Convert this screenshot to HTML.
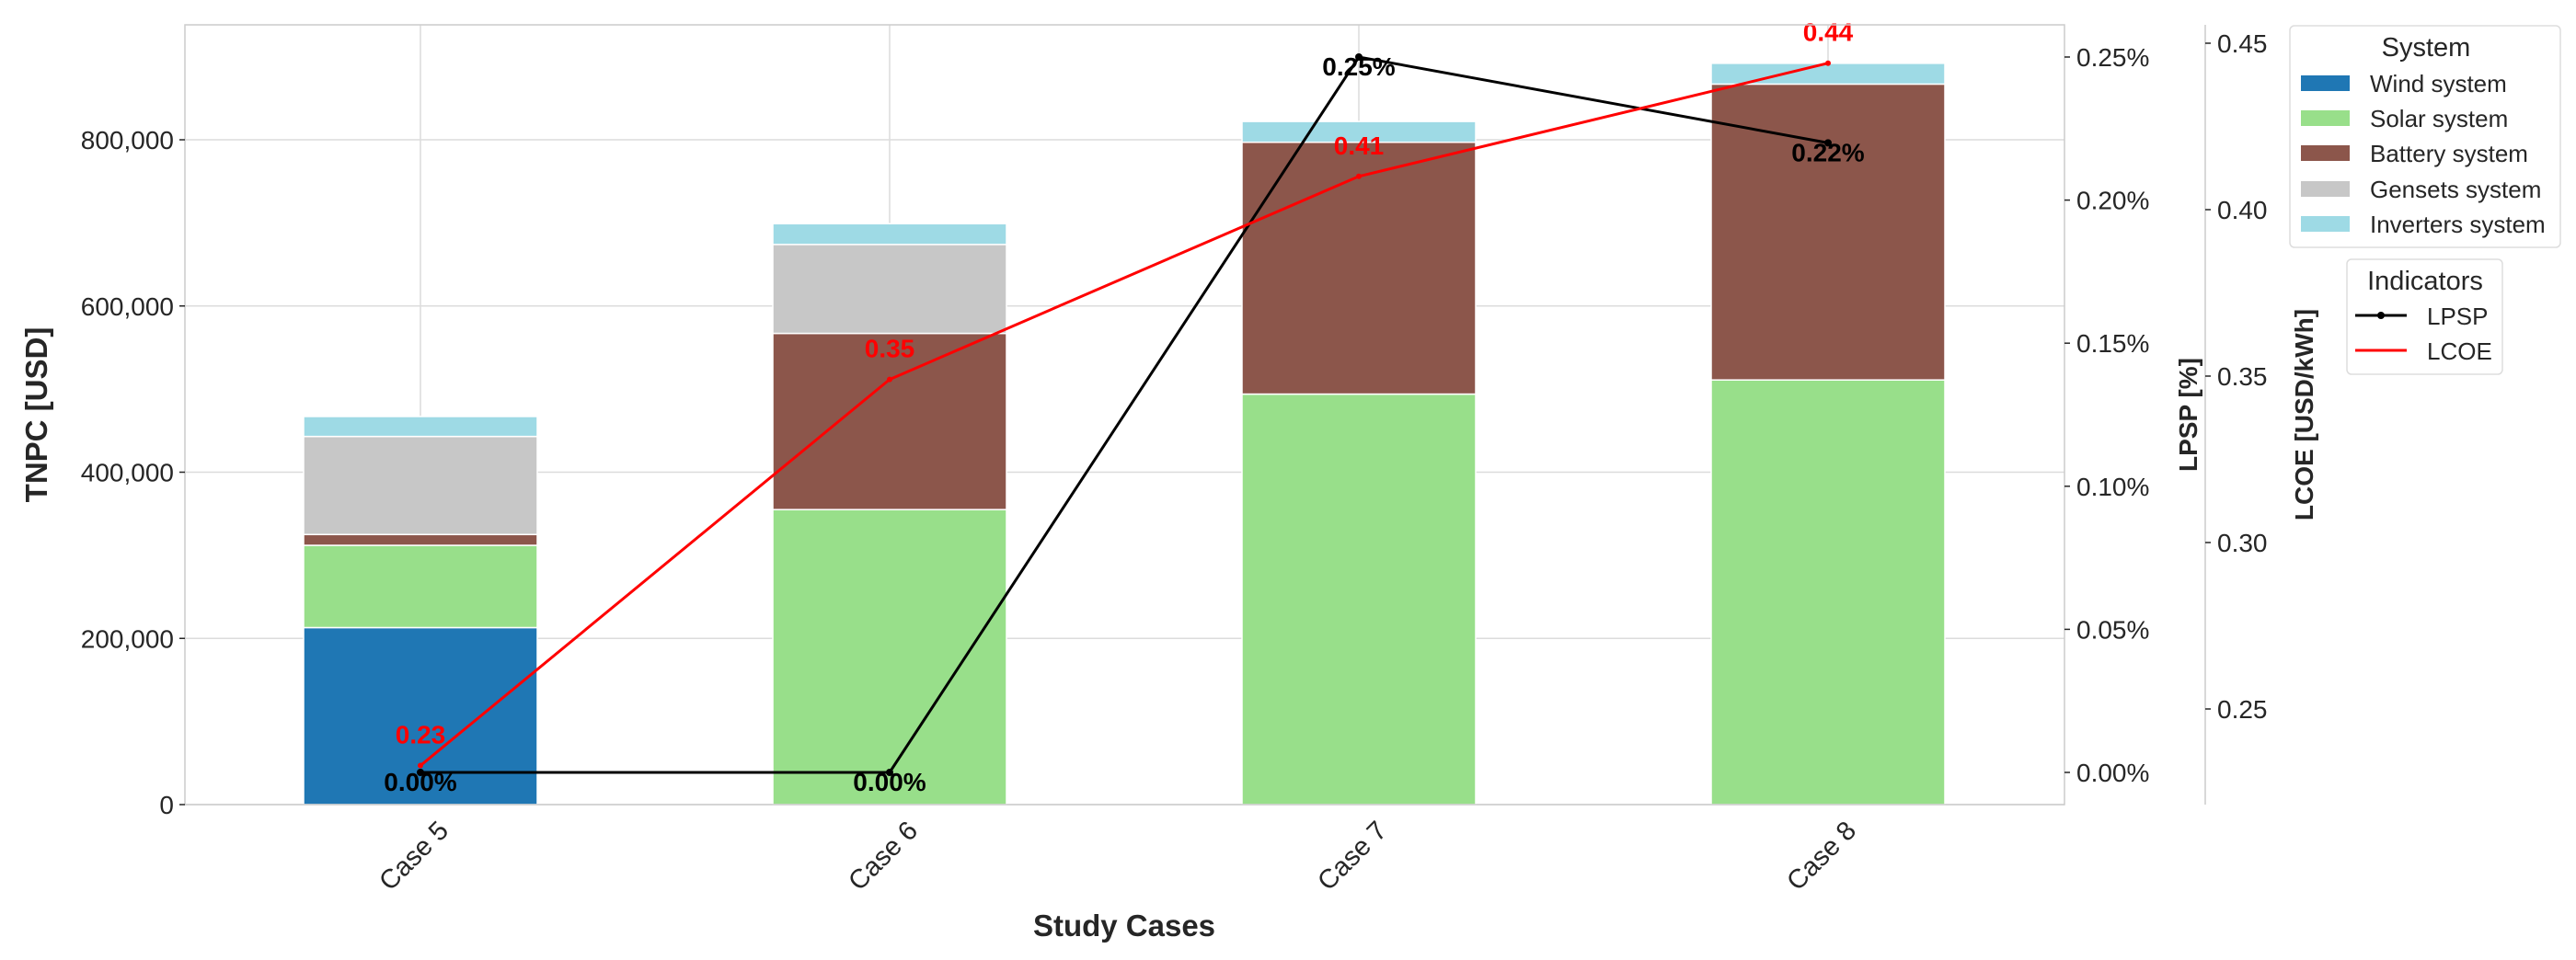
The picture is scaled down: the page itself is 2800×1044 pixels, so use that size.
<!DOCTYPE html>
<html><head><meta charset="utf-8"><style>
body{margin:0;background:#fff}
svg{display:block;font-family:"Liberation Sans",sans-serif}
</style></head><body>
<svg id="chart" width="2800" height="1044" viewBox="0 0 2800 1044">
<g id="grid"></g><g id="bars"></g><g id="lines"></g><g id="axes"></g>
<g id="legend">
 <rect x="2489" y="28" width="294" height="241" rx="5" fill="#fff" stroke="#ddd" stroke-width="1.5"/>
 <text x="2637" y="61" font-size="29" fill="#262626" text-anchor="middle">System</text>
 <rect x="2501" y="82" width="53" height="17" fill="#1f77b4"/>
 <text x="2576" y="100" font-size="26" fill="#262626">Wind system</text>
 <rect x="2501" y="120" width="53" height="17" fill="#98df8a"/>
 <text x="2576" y="138" font-size="26" fill="#262626">Solar system</text>
 <rect x="2501" y="158" width="53" height="17" fill="#8c564b"/>
 <text x="2576" y="176" font-size="26" fill="#262626">Battery system</text>
 <rect x="2501" y="197" width="53" height="17" fill="#c7c7c7"/>
 <text x="2576" y="215" font-size="26" fill="#262626">Gensets system</text>
 <rect x="2501" y="235" width="53" height="17" fill="#9edae5"/>
 <text x="2576" y="253" font-size="26" fill="#262626">Inverters system</text>
 <rect x="2551" y="282" width="169" height="125" rx="5" fill="#fff" stroke="#ddd" stroke-width="1.5"/>
 <text x="2636" y="315" font-size="29" fill="#262626" text-anchor="middle">Indicators</text>
 <line x1="2560" y1="343" x2="2616" y2="343" stroke="#000" stroke-width="3"/>
 <circle cx="2588" cy="343" r="4" fill="#000"/>
 <text x="2638" y="353" font-size="26" fill="#262626">LPSP</text>
 <line x1="2560" y1="381" x2="2616" y2="381" stroke="#f00" stroke-width="3"/>
 <text x="2638" y="391" font-size="26" fill="#262626">LCOE</text>
</g>
</svg>
<script>
const categories=["Case 5","Case 6","Case 7","Case 8"];
const wind=[213000,0,0,0];
const solar=[99000,355000,494000,511000];
const battery=[13000,212000,303000,356000];
const gensets=[118000,107000,0,0];
const inverters=[24000,25000,25000,25000];
const lpsp=[0.0,0.0,0.25,0.22];
const lcoe=[0.233,0.349,0.41,0.444];
const yTicks=[0,200000,400000,600000,800000];
const lpspTicks=[0,0.05,0.10,0.15,0.20,0.25];
const lcoeTicks=[0.25,0.30,0.35,0.40,0.45];

const NS="http://www.w3.org/2000/svg";
const L=201,R=2244,T=27,B=875;
const xC=i=>457+i*510;
const yL=v=>B-v/200000*180.75;
const yP=v=>840-v/0.05*155.6;
const yE=v=>47+(0.45-v)/0.05*181;
function el(tag,attrs,parent,txt){const e=document.createElementNS(NS,tag);for(const k in attrs)e.setAttribute(k,attrs[k]);if(txt!==undefined)e.textContent=txt;document.getElementById(parent).appendChild(e);return e;}
const fmt=v=>v.toLocaleString('en-US');
yTicks.forEach(v=>{const g=el('line',{x1:L,x2:R,y1:yL(v),y2:yL(v),stroke:'#dcdcdc','stroke-width':1.5},'grid');

});
categories.forEach((c,i)=>{const g=el('line',{x1:xC(i),x2:xC(i),y1:T,y2:B,stroke:'#dcdcdc','stroke-width':1.5},'grid');

});
const series=[["wind",wind,"#1f77b4"],["solar",solar,"#98df8a"],["battery",battery,"#8c564b"],["gensets",gensets,"#c7c7c7"],["inverters",inverters,"#9edae5"]];
categories.forEach((c,i)=>{let base=0;series.forEach(([n,arr,col])=>{const v=arr[i];if(v>0){const r=el('rect',{x:xC(i)-127,width:254,y:yL(base+v),height:yL(base)-yL(base+v),fill:col,stroke:'#fff','stroke-width':1.5},'bars');

}base+=v;});});
const lp=el('polyline',{points:lpsp.map((v,i)=>xC(i)+','+yP(v)).join(' '),fill:'none',stroke:'#000','stroke-width':3},'lines');


const lc=el('polyline',{points:lcoe.map((v,i)=>xC(i)+','+yE(v)).join(' '),fill:'none',stroke:'#f00','stroke-width':3},'lines');


lpsp.forEach((v,i)=>{const p=el('circle',{cx:xC(i),cy:yP(v),r:4,fill:'#000'},'lines');


const t=el('text',{x:xC(i),y:yP(v)+20,'font-size':28,'font-weight':'bold','text-anchor':'middle',fill:'#000'},'lines',v.toFixed(2)+'%');

});
lcoe.forEach((v,i)=>{const p=el('circle',{cx:xC(i),cy:yE(v),r:3,fill:'#f00'},'lines');


const t=el('text',{x:xC(i),y:yE(v)-24,'font-size':28,'font-weight':'bold','text-anchor':'middle',fill:'#f00'},'lines',v.toFixed(2));

});
const f=el('rect',{x:L,y:T,width:R-L,height:B-T,fill:'none',stroke:'#ccc','stroke-width':1.5},'axes');


const sp=el('line',{x1:2397,x2:2397,y1:T,y2:B,stroke:'#ccc','stroke-width':1.5},'axes');


yTicks.forEach(v=>{el('line',{x1:L-6,x2:L,y1:yL(v),y2:yL(v),stroke:'#262626','stroke-width':1.5},'axes');
const t=el('text',{x:L-12,y:yL(v)+10,'font-size':28,fill:'#262626','text-anchor':'end'},'axes',fmt(v));

});
lpspTicks.forEach(v=>{el('line',{x1:R,x2:R+6,y1:yP(v),y2:yP(v),stroke:'#262626','stroke-width':1.5},'axes');
const t=el('text',{x:R+13,y:yP(v)+10,'font-size':28,fill:'#262626'},'axes',v.toFixed(2)+'%');

});
lcoeTicks.forEach(v=>{el('line',{x1:2397,x2:2403,y1:yE(v),y2:yE(v),stroke:'#262626','stroke-width':1.5},'axes');
const t=el('text',{x:2410,y:yE(v)+10,'font-size':28,fill:'#262626'},'axes',v.toFixed(2));

});
categories.forEach((c,i)=>{const x=xC(i)+32,y=905;
const t=el('text',{x:x,y:y,'font-size':29,fill:'#262626','text-anchor':'end',transform:`rotate(-45 ${x} ${y})`},'axes',c);

});
const xt=el('text',{x:1222,y:1018,'font-size':33,'font-weight':'bold',fill:'#262626','text-anchor':'middle'},'axes','Study Cases');


const yt=el('text',{x:0,y:0,'font-size':33,'font-weight':'bold',fill:'#262626','text-anchor':'middle',transform:'translate(51 451) rotate(-90)'},'axes','TNPC [USD]');


const pt=el('text',{x:0,y:0,'font-size':28,'font-weight':'bold',fill:'#262626','text-anchor':'middle',transform:'translate(2388 451) rotate(-90)'},'axes','LPSP [%]');


const et=el('text',{x:0,y:0,'font-size':28,'font-weight':'bold',fill:'#262626','text-anchor':'middle',transform:'translate(2514 451) rotate(-90)'},'axes','LCOE [USD/kWh]');


</script>
</body></html>
